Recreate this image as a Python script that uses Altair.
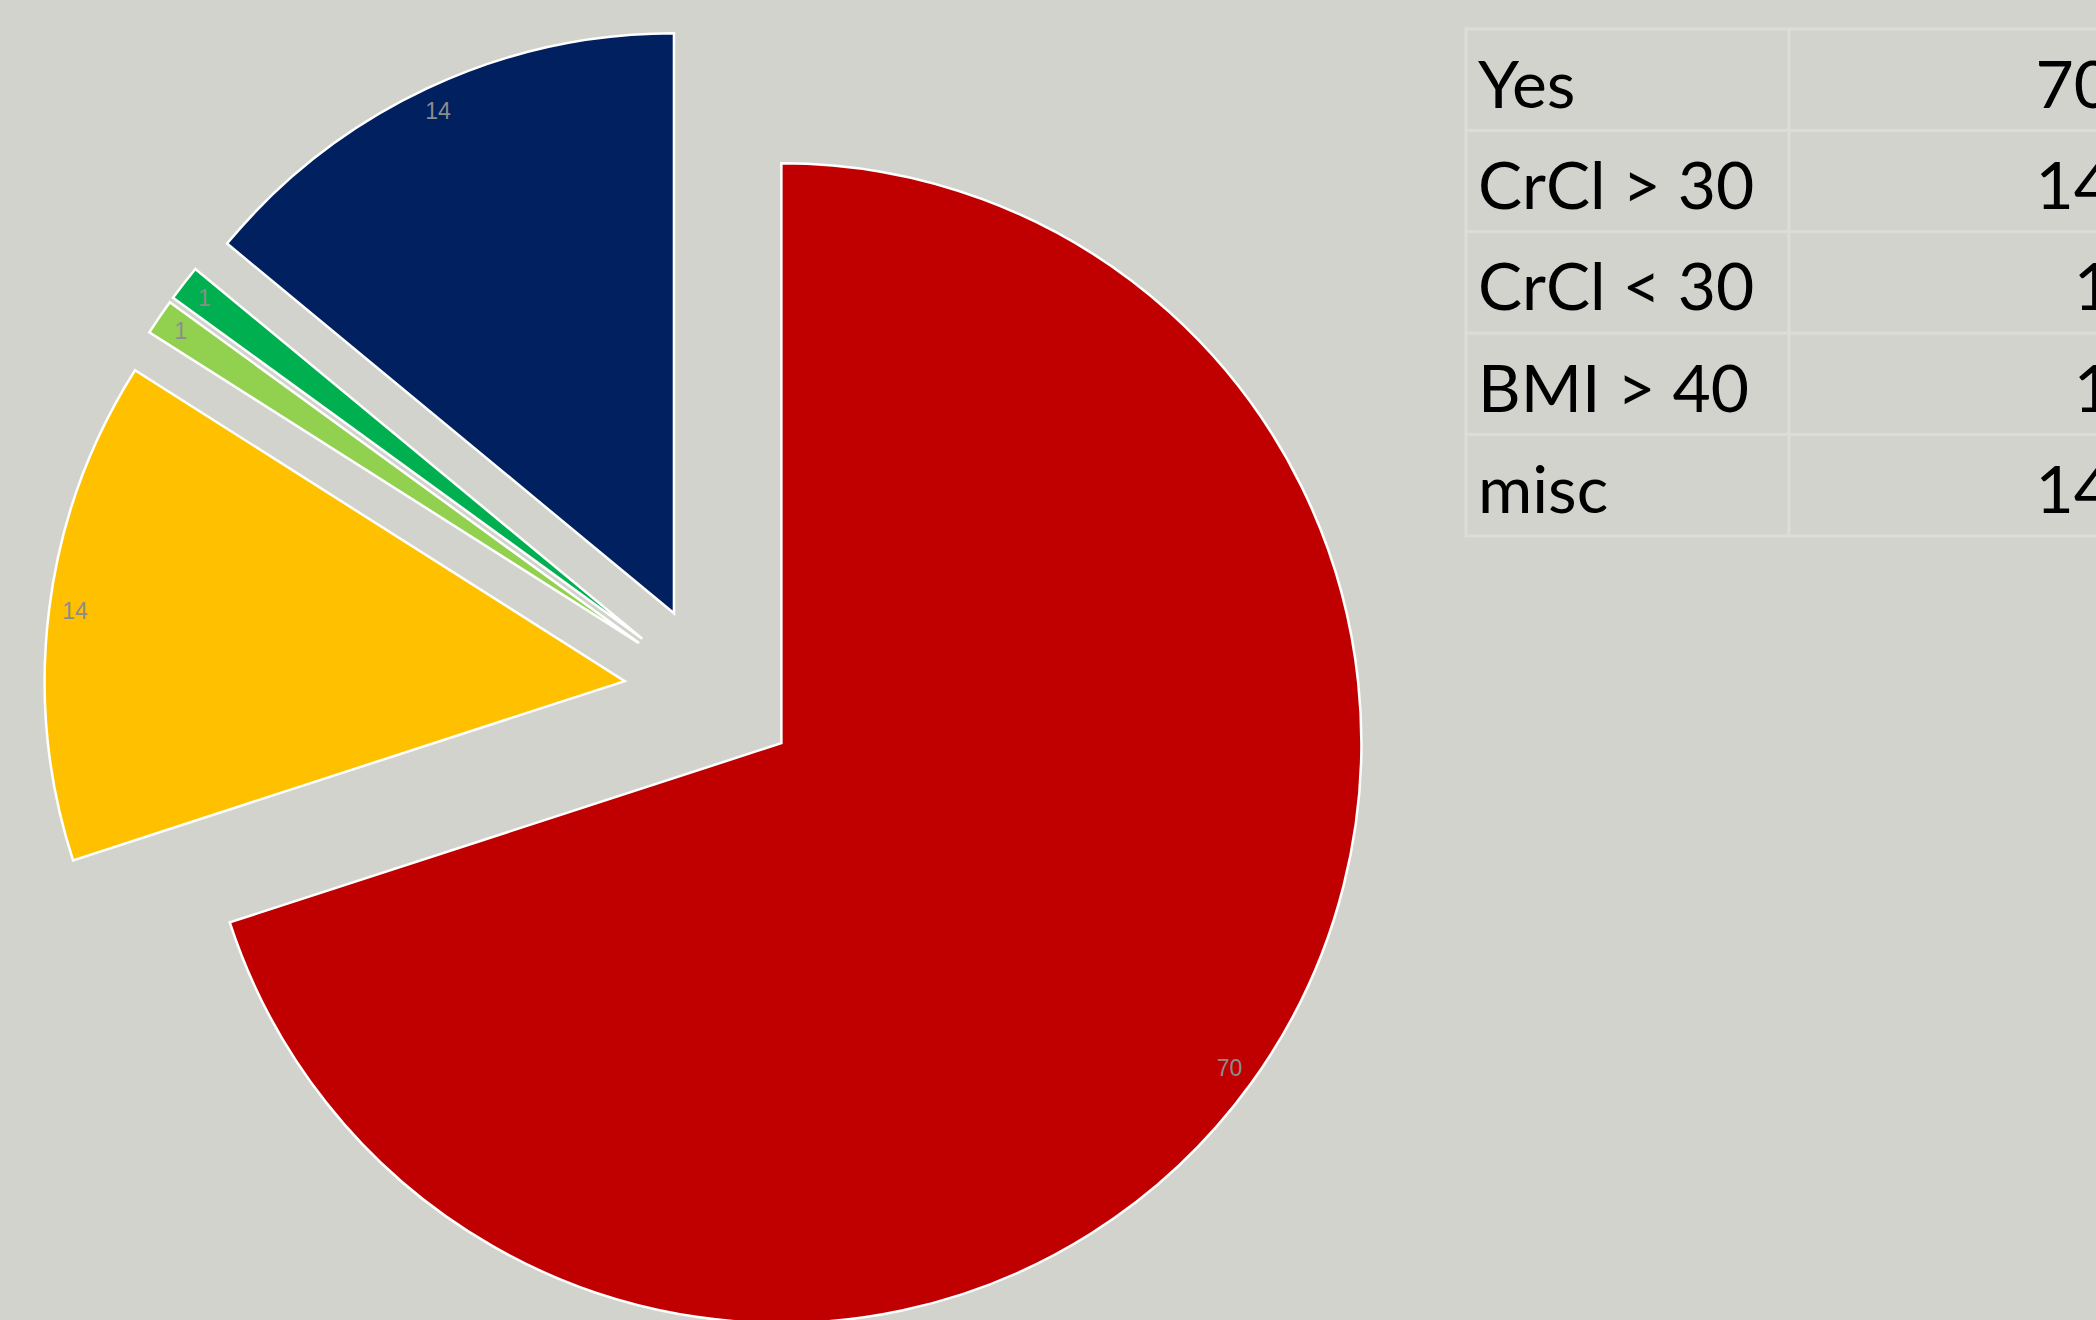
import altair as alt
import pandas as pd

# ---- data ----
categories = ["Yes", "CrCl > 30", "CrCl < 30", "BMI > 40", "misc"]
values = [70, 14, 1, 1, 14]
colors = ["#C00000", "#FFC000", "#92D050", "#00B050", "#002060"]

# ---- layout / style ----
W, H = 2096, 1320
CX, CY = 711, 692          # pie centre (before explosion)
R = 580                    # pie radius
EXPLODE = 87               # explosion distance of each slice
LABEL_R = 554              # label distance from a slice's apex
BG = "#D3D3CE"
GRID = "#DCDCD8"

df = pd.DataFrame({
    "category": categories,
    "value": values,
    "order": list(range(len(categories))),
})

base = (
    alt.Chart(df)
    .transform_joinaggregate(total="sum(value)")
    .transform_window(cum="sum(value)", sort=[alt.SortField("order")], frame=[None, 0])
    .transform_calculate(start="2*PI*(datum.cum - datum.value)/datum.total")
    .transform_calculate(end="2*PI*datum.cum/datum.total")
    .transform_calculate(mid="(datum.start + datum.end)/2")
    .transform_calculate(px=f"{CX} + {EXPLODE}*sin(datum.mid)")
    .transform_calculate(py=f"{CY} - {EXPLODE}*cos(datum.mid)")
    .transform_calculate(lx=f"{CX} + {EXPLODE + LABEL_R}*sin(datum.mid)")
    .transform_calculate(ly=f"{CY} - {EXPLODE + LABEL_R}*cos(datum.mid)")
)

pie = base.mark_arc(radius=R, stroke="white", strokeWidth=2.5, strokeJoin="miter").encode(
    x=alt.X("px:Q", scale=None, axis=None),
    y=alt.Y("py:Q", scale=None, axis=None),
    theta=alt.Theta("start:Q", scale=None, stack=None),
    theta2=alt.Theta2("end:Q"),
    color=alt.Color("category:N", scale=alt.Scale(domain=categories, range=colors), legend=None),
)

pie_labels = base.mark_text(font="Liberation Sans", fontSize=23, color="#8C8C8C").encode(
    x=alt.X("lx:Q", scale=None, axis=None),
    y=alt.Y("ly:Q", scale=None, axis=None),
    text=alt.Text("value:Q"),
)

# ---- table ----
xs = alt.Scale(domain=[0, 2], range=[1466, 2112])
ys = alt.Scale(domain=[0, 5], range=[29, 536])

tbase = alt.Chart(df).transform_calculate(r0="datum.order", r1="datum.order + 1")

label_cells = tbase.transform_calculate(c0="0", c1="1").mark_rect(
    fill=BG, stroke=GRID, strokeWidth=3
).encode(
    x=alt.X("c0:Q", scale=xs, axis=None), x2="c1:Q",
    y=alt.Y("r0:Q", scale=ys, axis=None), y2="r1:Q",
)
value_cells = tbase.transform_calculate(c0="1", c1="2.2").mark_rect(
    fill=BG, stroke=GRID, strokeWidth=3
).encode(
    x=alt.X("c0:Q", scale=xs, axis=None), x2="c1:Q",
    y=alt.Y("r0:Q", scale=ys, axis=None), y2="r1:Q",
)

tfont = dict(font="Lato", fontSize=66, color="#000000", baseline="alphabetic")
label_text = tbase.transform_calculate(c="0", ty="datum.order + 0.775").mark_text(
    align="left", dx=12, **tfont
).encode(
    x=alt.X("c:Q", scale=xs, axis=None),
    y=alt.Y("ty:Q", scale=ys, axis=None),
    text="category:N",
)
value_text = tbase.transform_calculate(c="2", ty="datum.order + 0.775").mark_text(
    align="right", dx=0, **tfont
).encode(
    x=alt.X("c:Q", scale=xs, axis=None),
    y=alt.Y("ty:Q", scale=ys, axis=None),
    text="value:Q",
)

table = alt.layer(label_cells, value_cells, label_text, value_text)

chart = (
    alt.layer(pie, pie_labels, table)
    .resolve_scale(x="independent", y="independent")
    .properties(width=W, height=H, padding=0, autosize=alt.AutoSizeParams(type="none"), background=BG)
    .configure_view(stroke=None)
)

chart.save("out.html", embed_options={"renderer": "svg", "actions": False})
